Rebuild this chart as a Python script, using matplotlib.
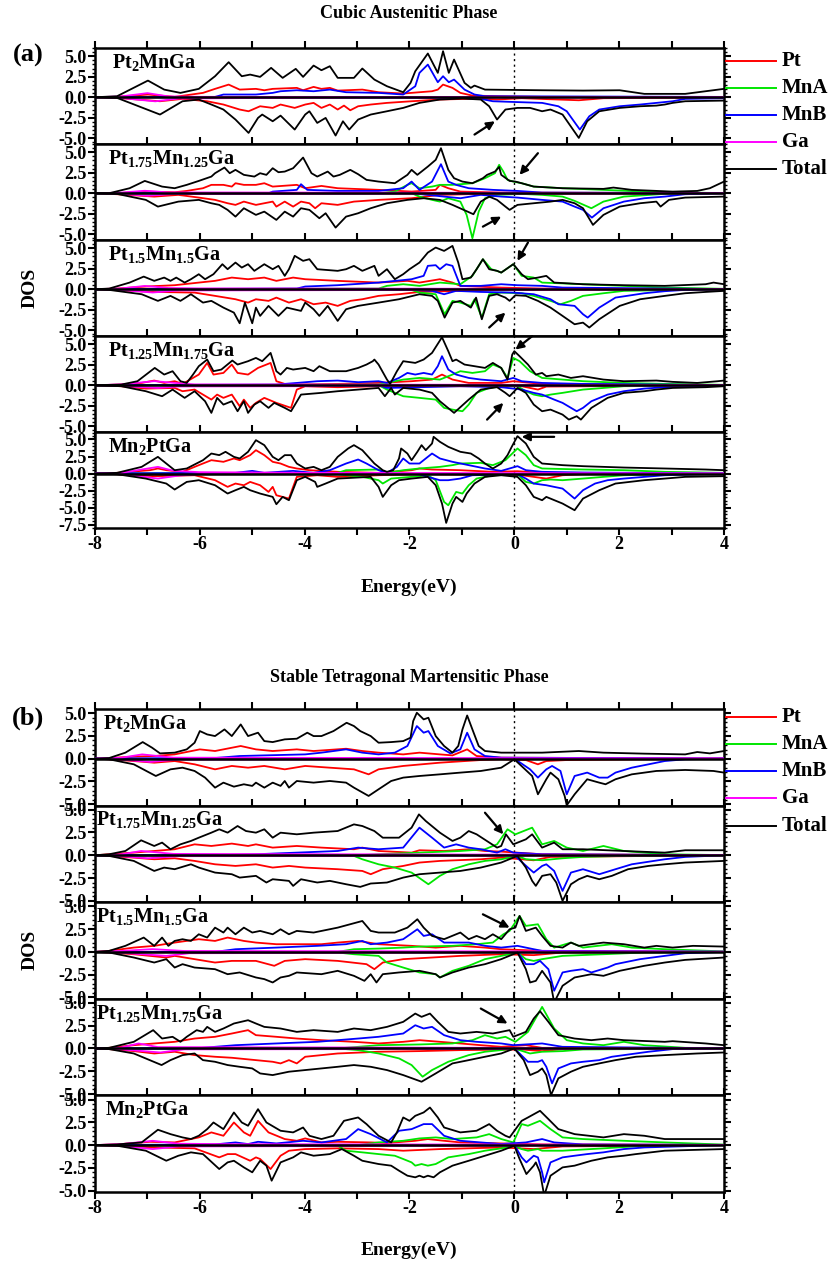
import matplotlib.pyplot as plt
from matplotlib.lines import Line2D
from matplotlib.ticker import MultipleLocator, FormatStrFormatter

plt.rcParams['font.family'] = 'Liberation Serif'
plt.rcParams['font.weight'] = 'bold'
plt.rcParams['mathtext.fontset'] = 'custom'
plt.rcParams['mathtext.rm'] = 'Liberation Serif:bold'
plt.rcParams['mathtext.it'] = 'Liberation Serif:bold'
plt.rcParams['mathtext.bf'] = 'Liberation Serif:bold'
plt.rcParams['axes.unicode_minus'] = False
plt.rcParams['axes.linewidth'] = 1.8

# ---------------- data: (energy eV, DOS) ----------------
# (a) cubic austenite, Pt2MnGa
a1_pt_up = [(-8, 0), (-7.58, 0.04), (-6.99, 0.33), (-6.48, 0.04), (-5.94, 0.53), (-5.71, 1.02), (-5.45, 1.54), (-5.24, 0.93), (-4.93, 1.02), (-4.77, 0.85), (-4.61, 1.02), (-4.15, 1.14), (-4.03, 0.85), (-3.83, 1.26), (-3.68, 1.02), (-3.52, 1.14), (-3.37, 0.81), (-2.9, 0.93), (-2.59, 0.61), (-2.12, 0.45), (-1.81, 0.61), (-1.57, 0.73), (-1.46, 0.93), (-1.36, 1.54), (-1.18, 1.14), (-1.03, 0.53), (-0.8, 0.2), (-0.25, 0.12), (0.53, 0.04), (4, 0.02)]
a1_pt_dn = [(-8, 0), (-7.58, -0.08), (-6.76, -0.49), (-6.33, -0.2), (-5.86, -0.49), (-5.55, -0.89), (-5.24, -1.5), (-5.07, -1.71), (-4.85, -1.1), (-4.61, -1.3), (-4.46, -0.89), (-4.19, -1.3), (-3.99, -0.89), (-3.83, -0.69), (-3.68, -1.3), (-3.52, -0.89), (-3.37, -1.5), (-3.25, -1.02), (-3.13, -1.59), (-2.98, -1.1), (-2.74, -0.89), (-2.43, -0.69), (-1.96, -0.49), (-1.42, -0.28), (-0.64, -0.16), (-0.33, -0.28), (0.14, -0.12), (1.23, -0.37), (1.7, -0.12), (4, -0.04)]
a1_mnb_up = [(-8, 0), (-5.71, 0.04), (-5.55, 0.33), (-4.93, 0.33), (-4.61, 0.53), (-4.46, 0.73), (-4.15, 0.85), (-3.83, 0.73), (-3.52, 0.93), (-3.21, 0.61), (-2.59, 0.53), (-2.12, 0.33), (-1.89, 1.34), (-1.81, 2.97), (-1.65, 3.98), (-1.46, 1.83), (-1.36, 2.56), (-1.25, 1.83), (-1.15, 2.15), (-0.95, 0.93), (-0.76, 0.33), (-0.56, 0.12), (4, 0.04)]
a1_mnb_dn = [(-8, 0), (-1.03, -0.08), (-0.64, -0.2), (-0.41, -0.49), (0.14, -0.61), (0.53, -0.69), (0.84, -1.1), (1.0, -1.71), (1.25, -3.94), (1.43, -2.32), (1.62, -1.5), (2.01, -1.1), (2.4, -0.89), (2.71, -0.69), (3.02, -0.49), (3.26, -0.2), (4, -0.12)]
a1_ga_up = [(-8, 0), (-7.5, 0.1), (-7.0, 0.5), (-6.6, 0.1), (-6.0, 0.05), (4, 0.02)]
a1_ga_dn = [(-8, 0), (-7.5, -0.1), (-6.85, -0.5), (-6.4, -0.15), (-5.0, -0.1), (-2.0, -0.05), (4, -0.02)]
a1_tot_up = [(-8, 0), (-7.58, 0.12), (-6.99, 2.03), (-6.68, 0.93), (-6.37, 0.53), (-6.02, 1.02), (-5.71, 2.56), (-5.45, 4.27), (-5.2, 2.56), (-5.04, 2.76), (-4.85, 2.48), (-4.64, 3.58), (-4.42, 2.36), (-4.17, 3.46), (-4.03, 2.48), (-3.83, 3.86), (-3.68, 3.29), (-3.52, 3.78), (-3.37, 2.36), (-3.06, 2.36), (-2.9, 3.5), (-2.67, 2.15), (-2.43, 1.34), (-2.12, 0.61), (-1.98, 1.75), (-1.89, 3.17), (-1.65, 5.33), (-1.46, 2.97), (-1.36, 5.61), (-1.25, 2.97), (-1.15, 4.59), (-0.95, 1.75), (-0.83, 1.14), (-0.76, 1.42), (-0.56, 0.93), (0.53, 0.85), (1.31, 0.81), (2.01, 0.85), (2.48, 0.41), (3.26, 0.41), (4.0, 1.02)]
a1_tot_dn = [(-8, 0), (-7.58, -0.08), (-6.76, -2.11), (-6.33, -0.49), (-6.02, -0.28), (-5.78, -0.89), (-5.55, -1.5), (-5.32, -2.72), (-5.07, -4.35), (-4.89, -2.52), (-4.81, -2.11), (-4.61, -2.93), (-4.46, -2.24), (-4.19, -3.94), (-3.99, -2.11), (-3.91, -1.71), (-3.76, -3.13), (-3.6, -2.52), (-3.41, -4.67), (-3.27, -2.93), (-3.15, -3.94), (-2.98, -2.72), (-2.74, -2.11), (-2.43, -1.71), (-2.12, -1.3), (-1.81, -0.69), (-1.42, -0.28), (-0.99, -0.16), (-0.64, -0.28), (-0.48, -1.1), (-0.33, -2.72), (-0.17, -1.5), (0.06, -1.3), (0.3, -1.3), (0.53, -1.71), (0.69, -1.5), (0.92, -2.11), (1.23, -4.96), (1.39, -2.93), (1.62, -1.71), (2.01, -1.3), (2.4, -1.1), (2.71, -1.02), (2.87, -0.89), (3.02, -0.69), (3.26, -0.49), (4.0, -0.41)]

# (a) Pt1.75Mn1.25Ga
a2_pt_up = [(-8, 0), (-7.58, 0), (-7.03, 0.2), (-6.48, 0.12), (-6.25, 0.28), (-5.94, 0.61), (-5.78, 1.02), (-5.55, 1.02), (-5.39, 0.81), (-5.32, 1.22), (-5.16, 1.02), (-4.93, 1.02), (-4.77, 1.22), (-4.61, 0.81), (-4.15, 1.02), (-3.99, 0.61), (-3.68, 0.89), (-3.37, 0.61), (-2.59, 0.41), (-1.96, 0.2), (-1.5, 0.41), (-1.42, 1.02), (-1.26, 0.61), (-1.03, 0.2), (-0.25, 0.08), (4, 0.02)]
a2_pt_dn = [(-8, 0), (-7.58, -0.12), (-6.87, -0.41), (-6.41, -0.2), (-6.02, -0.53), (-5.71, -0.81), (-5.47, -1.22), (-5.32, -1.42), (-5.16, -1.02), (-4.93, -1.42), (-4.61, -1.02), (-4.54, -1.63), (-4.38, -1.02), (-4.22, -1.63), (-4.07, -1.02), (-3.91, -1.22), (-3.8, -1.83), (-3.68, -1.22), (-3.37, -1.42), (-3.06, -1.02), (-2.59, -0.81), (-1.96, -0.61), (-1.42, -0.2), (-0.64, -0.08), (4, 0)]
a2_mna_up = [(-8, 0), (-2.59, 0), (-2.28, 0.2), (-2.04, 1.02), (-1.96, 1.22), (-1.81, 0.61), (-1.57, 0.81), (-1.42, 1.02), (-1.18, 1.02), (-0.8, 1.22), (-0.56, 1.83), (-0.37, 2.44), (-0.29, 3.46), (-0.21, 2.64), (-0.13, 1.63), (-0.02, 1.42), (0.14, 1.22), (0.37, 0.81), (0.92, 0.61), (1.7, 0.41), (2.48, 0.2), (3.26, 0.08), (4, 0.02)]
a2_mna_dn = [(-8, 0), (-1.96, 0), (-1.81, -0.41), (-1.57, -0.81), (-1.42, -1.02), (-1.26, -0.61), (-1.03, -1.02), (-0.91, -2.64), (-0.8, -5.49), (-0.68, -2.24), (-0.56, -0.61), (-0.33, -0.2), (0.14, -0.08), (0.53, -0.2), (0.92, -0.41), (1.15, -0.93), (1.47, -1.83), (1.7, -1.02), (2.09, -0.41), (2.87, -0.08), (4, 0)]
a2_mnb_up = [(-8, 0), (-4.69, 0), (-4.61, 0.2), (-4.15, 0.41), (-4.07, 1.1), (-3.95, 0.41), (-3.37, 0.28), (-2.59, 0.28), (-2.12, 0.61), (-1.96, 1.42), (-1.81, 0.41), (-1.57, 1.42), (-1.4, 3.54), (-1.26, 1.42), (-1.11, 1.02), (-0.87, 0.61), (-0.41, 0.41), (0.06, 0.28), (0.53, 0.08), (4, 0.02)]
a2_mnb_dn = [(-8, 0), (-1.96, 0), (-1.65, -0.2), (-1.34, -0.41), (-1.03, -0.61), (-0.64, -0.2), (-0.25, -0.41), (0.06, -0.53), (0.53, -0.81), (0.92, -1.02), (1.15, -1.63), (1.31, -2.03), (1.48, -2.97), (1.7, -1.83), (2.09, -1.02), (2.48, -0.61), (2.87, -0.41), (3.26, -0.12), (4, 0)]
a2_ga_up = [(-8, 0), (-7.5, 0.08), (-7.05, 0.3), (-6.6, 0.1), (4, 0.02)]
a2_ga_dn = [(-8, 0), (-7.5, -0.08), (-7.0, -0.3), (-6.5, -0.1), (4, -0.02)]
a2_tot_up = [(-8, 0), (-7.73, 0), (-7.34, 0.61), (-7.05, 1.5), (-6.72, 0.81), (-6.48, 0.61), (-6.25, 1.02), (-6.02, 1.5), (-5.78, 2.03), (-5.71, 2.44), (-5.53, 3.13), (-5.43, 2.44), (-5.32, 2.85), (-5.16, 2.24), (-4.96, 2.03), (-4.85, 2.44), (-4.73, 2.24), (-4.61, 3.05), (-4.5, 2.56), (-4.38, 2.64), (-4.22, 3.05), (-4.03, 4.35), (-3.87, 2.44), (-3.76, 2.03), (-3.56, 2.64), (-3.45, 2.03), (-3.33, 2.24), (-3.13, 2.85), (-2.98, 2.32), (-2.82, 1.63), (-2.59, 1.42), (-2.28, 1.22), (-2.04, 2.24), (-1.96, 2.85), (-1.85, 2.24), (-1.65, 3.25), (-1.5, 4.07), (-1.4, 5.49), (-1.26, 2.85), (-1.15, 1.83), (-0.99, 1.42), (-0.8, 1.22), (-0.6, 1.83), (-0.52, 2.24), (-0.37, 2.64), (-0.29, 3.2), (-0.25, 2.24), (-0.09, 1.5), (0.02, 1.42), (0.14, 1.22), (0.37, 0.81), (0.92, 0.61), (1.7, 0.53), (1.89, 0.69), (2.24, 0.41), (3.02, 0.2), (3.49, 0.28), (3.73, 0.61), (4.0, 1.42)]
a2_tot_dn = [(-8, 0), (-7.58, -0.08), (-7.03, -0.81), (-6.8, -1.63), (-6.41, -1.02), (-6.02, -0.81), (-5.78, -1.22), (-5.63, -1.42), (-5.47, -2.03), (-5.32, -2.85), (-5.16, -1.83), (-4.93, -2.64), (-4.77, -2.24), (-4.54, -3.25), (-4.38, -2.24), (-4.22, -2.85), (-4.07, -1.83), (-3.91, -2.03), (-3.72, -3.05), (-3.6, -2.44), (-3.41, -4.19), (-3.21, -2.85), (-2.98, -2.44), (-2.74, -1.83), (-2.43, -1.22), (-2.04, -0.81), (-1.73, -0.61), (-1.42, -0.81), (-1.18, -1.42), (-0.78, -2.56), (-0.64, -1.02), (-0.48, -0.41), (-0.33, -0.81), (-0.17, -1.63), (-0.09, -2.03), (0.06, -1.42), (0.37, -1.22), (0.69, -1.02), (0.92, -0.81), (1.15, -1.22), (1.31, -1.83), (1.5, -3.86), (1.7, -2.64), (2.01, -1.63), (2.4, -1.22), (2.71, -1.02), (2.79, -1.63), (2.95, -0.81), (3.26, -0.53), (4, -0.41)]

# (a) Pt1.5Mn1.5Ga
a3_pt_up = [(-8, 0), (-7.58, 0.08), (-7.03, 0.33), (-6.48, 0.49), (-6.02, 0.81), (-5.71, 1.02), (-5.39, 1.42), (-5.08, 1.22), (-4.77, 1.42), (-4.54, 1.02), (-4.22, 1.42), (-3.99, 1.22), (-3.37, 1.02), (-2.59, 0.81), (-2.04, 1.02), (-1.81, 0.81), (-1.42, 1.22), (-1.18, 0.81), (-1.03, 0.41), (-0.25, 0.2), (0.53, 0.08), (4, 0.02)]
a3_pt_dn = [(-8, 0), (-7.73, -0.08), (-6.87, -0.33), (-6.1, -0.41), (-5.71, -0.81), (-5.32, -1.22), (-5.08, -1.63), (-4.93, -1.22), (-4.69, -1.42), (-4.54, -1.02), (-4.3, -1.63), (-4.07, -1.22), (-3.83, -1.83), (-3.6, -1.63), (-3.37, -2.03), (-3.13, -1.42), (-2.9, -1.22), (-2.59, -0.81), (-2.2, -0.61), (-1.81, -0.33), (-1.03, -0.2), (-0.25, -0.08), (4, 0)]
a3_mna_up = [(-8, 0), (-2.59, 0.08), (-2.43, 0.41), (-2.12, 0.61), (-1.81, 0.41), (-1.42, 0.81), (-1.03, 0.61), (-0.8, 1.63), (-0.68, 2.85), (-0.6, 3.66), (-0.44, 2.44), (-0.33, 2.24), (-0.25, 2.03), (-0.02, 3.05), (0.14, 1.63), (0.37, 1.42), (0.53, 0.81), (1.31, 0.61), (2.09, 0.41), (2.87, 0.2), (4, 0.05)]
a3_mna_dn = [(-8, 0), (-1.96, -0.08), (-1.81, -0.41), (-1.5, -0.61), (-1.33, -3.05), (-1.18, -1.42), (-1.03, -1.63), (-0.83, -2.03), (-0.76, -1.22), (-0.62, -3.46), (-0.48, -0.61), (-0.25, -0.41), (0.14, -0.49), (0.37, -0.81), (0.69, -1.42), (0.88, -1.83), (1.08, -1.42), (1.31, -0.81), (1.7, -0.49), (2.09, -0.2), (4, 0)]
a3_mnb_up = [(-8, 0), (-4.15, 0.08), (-3.99, 0.33), (-3.37, 0.49), (-2.59, 0.81), (-1.96, 1.22), (-1.73, 1.63), (-1.65, 2.85), (-1.5, 2.93), (-1.42, 2.44), (-1.3, 3.05), (-1.18, 2.85), (-1.03, 0.41), (-0.64, 0.41), (-0.25, 0.61), (0.06, 0.49), (0.53, 0.41), (0.92, 0.2), (4, 0.02)]
a3_mnb_dn = [(-8, 0), (-1.96, -0.08), (-1.57, -0.2), (-1.34, -0.61), (-1.11, -0.2), (-0.64, -0.33), (-0.02, -0.41), (0.37, -0.61), (0.69, -1.22), (0.84, -1.83), (1.15, -2.03), (1.31, -3.05), (1.4, -3.46), (1.62, -2.24), (1.93, -1.02), (2.48, -0.49), (2.87, -0.24), (3.26, -0.08), (4, 0)]
a3_ga_up = [(-8, 0), (-7.5, 0.1), (-7.05, 0.4), (-6.6, 0.15), (-6.0, 0.1), (4, 0.02)]
a3_ga_dn = [(-8, 0), (-7.5, -0.1), (-6.9, -0.4), (-6.4, -0.15), (4, -0.02)]
a3_tot_up = [(-8, 0), (-7.73, 0.08), (-7.34, 0.81), (-7.07, 1.54), (-6.87, 1.02), (-6.68, 1.42), (-6.56, 1.02), (-6.45, 1.42), (-6.29, 0.81), (-6.17, 1.22), (-6.02, 1.83), (-5.9, 1.22), (-5.74, 1.83), (-5.57, 3.05), (-5.47, 2.44), (-5.32, 3.25), (-5.2, 2.64), (-5.08, 3.05), (-4.96, 2.24), (-4.77, 3.05), (-4.61, 2.44), (-4.5, 2.85), (-4.38, 1.63), (-4.3, 2.44), (-4.19, 4.07), (-4.03, 3.46), (-3.91, 3.66), (-3.76, 2.44), (-3.37, 2.24), (-3.21, 2.44), (-3.06, 2.85), (-2.9, 2.24), (-2.67, 2.85), (-2.59, 1.63), (-2.43, 2.44), (-2.28, 1.22), (-2.12, 1.83), (-2.0, 2.44), (-1.81, 3.25), (-1.65, 4.47), (-1.5, 5.08), (-1.34, 4.67), (-1.18, 5.28), (-1.07, 3.25), (-0.99, 1.22), (-0.83, 1.42), (-0.72, 2.44), (-0.6, 3.66), (-0.48, 2.44), (-0.33, 2.24), (-0.25, 2.03), (-0.02, 3.05), (0.14, 1.83), (0.26, 1.22), (0.45, 1.42), (0.61, 1.63), (0.76, 0.81), (1.31, 0.61), (2.09, 0.49), (2.87, 0.41), (3.65, 0.61), (3.8, 0.81), (4, 0.61)]
a3_tot_dn = [(-8, 0), (-7.73, -0.08), (-7.11, -0.61), (-6.8, -1.42), (-6.56, -0.81), (-6.37, -1.42), (-6.17, -0.61), (-5.94, -1.63), (-5.78, -1.42), (-5.55, -2.24), (-5.35, -2.85), (-5.24, -4.15), (-5.14, -1.63), (-5.0, -4.15), (-4.93, -2.24), (-4.85, -3.25), (-4.69, -2.03), (-4.5, -3.25), (-4.34, -2.24), (-4.07, -2.64), (-3.99, -1.63), (-3.83, -2.44), (-3.72, -3.25), (-3.56, -2.03), (-3.37, -3.86), (-3.21, -2.44), (-2.98, -2.03), (-2.59, -1.63), (-2.2, -1.22), (-1.81, -0.61), (-1.57, -0.81), (-1.46, -1.42), (-1.33, -3.46), (-1.18, -1.63), (-1.03, -1.42), (-0.83, -2.24), (-0.73, -1.02), (-0.62, -3.66), (-0.48, -0.81), (-0.33, -0.61), (-0.17, -1.02), (-0.09, -1.42), (0.02, -0.73), (0.22, -0.81), (0.45, -1.42), (0.69, -2.24), (0.92, -3.25), (1.15, -4.27), (1.31, -4.07), (1.43, -4.67), (1.62, -3.66), (2.01, -2.03), (2.4, -1.22), (2.87, -0.81), (3.26, -0.49), (3.65, -0.33), (4, -0.2)]

# (a) Pt1.25Mn1.75Ga
a4_pt_up = [(-8, 0), (-7.5, 0.08), (-7.11, 0.28), (-6.87, 0.57), (-6.68, 0.28), (-6.48, 0.49), (-6.33, 0.16), (-6.02, 1.3), (-5.86, 2.72), (-5.74, 1.3), (-5.55, 1.5), (-5.39, 2.52), (-5.28, 1.5), (-5.08, 1.3), (-4.89, 2.11), (-4.65, 2.72), (-4.54, 0.49), (-4.38, 0.16), (-4.15, 0.08), (-3.37, 0.16), (-2.59, 0.28), (-1.96, 0.49), (-1.57, 0.69), (-1.38, 1.3), (-1.18, 0.69), (-0.87, 0.28), (-0.25, 0.28), (-0.02, 0.49), (0.53, 0.16), (4, 0.02)]
a4_pt_dn = [(-8, 0), (-7.5, -0.12), (-7.03, -0.41), (-6.48, -0.33), (-6.33, -0.73), (-6.1, -0.53), (-5.78, -1.75), (-5.67, -1.14), (-5.55, -1.54), (-5.39, -1.14), (-5.24, -2.56), (-5.16, -1.75), (-5.04, -2.76), (-4.93, -2.15), (-4.77, -1.54), (-4.54, -2.15), (-4.26, -2.76), (-4.15, -0.53), (-3.99, -0.12), (-3.37, -0.24), (-2.59, -0.12), (0.14, -0.12), (0.45, -0.53), (0.61, -0.16), (4, 0)]
a4_mna_up = [(-8, 0), (-2.59, 0.08), (-2.43, 0.28), (-2.12, 0.69), (-1.81, 0.89), (-1.42, 0.69), (-1.18, 1.3), (-1.03, 1.71), (-0.8, 1.5), (-0.56, 1.71), (-0.41, 2.52), (-0.25, 2.11), (-0.13, 0.89), (-0.02, 3.33), (0.1, 2.93), (0.3, 1.71), (0.53, 0.89), (0.92, 0.69), (1.31, 0.49), (2.09, 0.28), (2.87, 0.16), (4, 0.05)]
a4_mna_dn = [(-8, 0), (-2.59, 0), (-2.43, -0.53), (-2.12, -1.34), (-1.81, -1.54), (-1.5, -1.75), (-1.34, -2.76), (-1.18, -2.97), (-0.99, -3.17), (-0.87, -2.36), (-0.72, -0.93), (-0.48, -0.33), (-0.25, -0.12), (0.06, -0.12), (0.22, -0.73), (0.37, -1.14), (0.53, -1.34), (0.69, -1.14), (0.92, -0.93), (1.31, -0.53), (1.7, -0.33), (2.09, -0.12), (4, 0)]
a4_mnb_up = [(-8, 0), (-4.54, 0.08), (-4.15, 0.28), (-3.76, 0.49), (-3.37, 0.57), (-2.98, 0.37), (-2.59, 0.49), (-2.43, 0.28), (-2.2, 0.89), (-2.04, 1.5), (-1.89, 1.3), (-1.73, 1.5), (-1.57, 1.3), (-1.46, 2.32), (-1.38, 3.54), (-1.26, 1.91), (-1.11, 1.3), (-0.87, 0.89), (-0.64, 0.69), (-0.25, 0.49), (-0.02, 0.89), (0.14, 0.49), (0.53, 0.28), (1.31, 0.16), (4, 0.02)]
a4_mnb_dn = [(-8, 0), (-2.59, 0), (-2.43, -0.33), (-1.81, -0.24), (-1.03, -0.12), (-0.25, -0.24), (0.14, -0.53), (0.37, -0.93), (0.53, -1.14), (0.76, -1.75), (0.92, -2.15), (1.19, -3.17), (1.31, -2.76), (1.47, -1.95), (1.78, -1.14), (2.09, -0.73), (2.48, -0.41), (2.87, -0.24), (4, 0)]
a4_ga_up = [(-8, 0), (-7.5, 0.1), (-6.87, 0.5), (-6.48, 0.28), (-6.1, 0.1), (4, 0.02)]
a4_ga_dn = [(-8, 0), (-7.5, -0.1), (-6.8, -0.33), (-6.4, -0.15), (4, -0.02)]
a4_tot_up = [(-8, 0), (-7.5, 0.08), (-7.19, 0.49), (-6.86, 2.11), (-6.68, 1.3), (-6.52, 1.71), (-6.37, 0.49), (-6.25, 0.28), (-6.13, 1.3), (-6.02, 2.32), (-5.86, 3.13), (-5.74, 1.71), (-5.59, 1.91), (-5.38, 3.01), (-5.28, 2.52), (-5.08, 2.93), (-4.93, 3.33), (-4.81, 2.93), (-4.65, 3.94), (-4.54, 1.71), (-4.46, 1.3), (-4.34, 2.11), (-4.22, 1.91), (-3.99, 2.11), (-3.83, 1.71), (-3.72, 2.32), (-3.52, 1.71), (-3.21, 1.71), (-2.98, 2.11), (-2.82, 2.52), (-2.7, 2.93), (-2.67, 3.13), (-2.59, 2.52), (-2.43, 0.69), (-2.37, 0.16), (-2.24, 1.71), (-2.12, 2.93), (-1.89, 2.72), (-1.73, 3.13), (-1.57, 3.94), (-1.38, 5.85), (-1.26, 4.15), (-1.18, 2.93), (-1.11, 3.13), (-0.95, 2.52), (-0.76, 2.32), (-0.56, 2.11), (-0.41, 2.72), (-0.25, 2.11), (-0.13, 0.69), (-0.04, 3.74), (0, 4.15), (0.1, 3.54), (0.26, 2.52), (0.41, 1.3), (0.53, 1.5), (0.61, 1.1), (0.84, 1.3), (1.08, 0.89), (1.31, 1.1), (1.7, 0.69), (2.09, 0.49), (2.71, 0.57), (3.02, 0.41), (3.49, 0.28), (3.88, 0.49), (4, 0.57)]
a4_tot_dn = [(-8, 0), (-7.5, -0.12), (-7.03, -0.73), (-6.72, -1.34), (-6.52, -0.53), (-6.29, -1.54), (-6.1, -0.73), (-5.9, -1.95), (-5.78, -3.37), (-5.67, -1.54), (-5.55, -2.36), (-5.39, -1.95), (-5.28, -3.17), (-5.16, -1.95), (-5.08, -3.37), (-4.96, -2.36), (-4.85, -1.95), (-4.69, -2.76), (-4.58, -2.15), (-4.38, -2.76), (-4.26, -3.17), (-4.07, -1.14), (-3.68, -0.93), (-3.37, -0.73), (-2.98, -0.53), (-2.59, -0.33), (-2.47, -1.34), (-2.35, -0.33), (-2.28, -1.14), (-2.12, -0.33), (-1.81, -0.53), (-1.57, -0.93), (-1.42, -1.95), (-1.15, -3.37), (-0.87, -1.75), (-0.64, -0.53), (-0.33, -0.24), (-0.17, -0.93), (-0.09, -1.34), (0.06, -0.33), (0.22, -0.93), (0.37, -2.36), (0.53, -3.17), (0.69, -2.97), (0.92, -3.58), (1.04, -4.19), (1.19, -3.78), (1.27, -4.19), (1.47, -2.76), (1.78, -1.54), (2.09, -0.93), (2.48, -0.73), (2.71, -0.53), (3.02, -0.33), (3.65, -0.24), (4, -0.12)]

# (a) Mn2PtGa
a5_pt_up = [(-8, 0), (-7.58, 0.1), (-6.95, 0.49), (-6.8, 0.74), (-6.64, 0.49), (-6.33, 0.25), (-6.02, 1.23), (-5.78, 1.96), (-5.55, 1.72), (-5.35, 2.21), (-5.24, 1.96), (-5.04, 2.7), (-4.93, 3.43), (-4.77, 2.7), (-4.61, 1.72), (-4.46, 1.47), (-4.3, 0.98), (-4.15, 0.74), (-3.91, 0.49), (-3.37, 0.25), (-2.59, 0.1), (-1.96, 0.49), (-1.81, 0.74), (-1.57, 0.59), (-1.03, 0.49), (-0.41, 0.25), (0.06, 0.34), (0.53, 0.1), (4, 0.02)]
a5_pt_dn = [(-8, 0), (-7.58, -0.1), (-6.87, -0.39), (-6.1, -0.25), (-5.71, -0.98), (-5.47, -1.96), (-5.32, -1.47), (-5.16, -1.72), (-5.04, -1.23), (-4.85, -1.72), (-4.69, -2.7), (-4.61, -1.96), (-4.54, -3.19), (-4.3, -3.68), (-4.22, -1.96), (-4.15, -0.49), (-3.76, -0.25), (-3.37, -0.49), (-2.59, -0.25), (-1.81, -0.1), (0.14, -0.25), (0.37, -0.49), (0.61, -0.74), (0.92, -0.25), (1.31, -0.1), (4, 0)]
a5_mna_up = [(-8, 0), (-3.37, 0.1), (-3.21, 0.49), (-2.59, 0.59), (-2.43, 0.1), (-2.12, 0.49), (-1.81, 0.74), (-1.42, 0.98), (-1.18, 1.23), (-1.03, 1.47), (-0.64, 1.57), (-0.41, 1.23), (-0.17, 1.96), (0.06, 3.68), (0.22, 2.7), (0.37, 1.23), (0.53, 0.74), (1.31, 0.59), (2.09, 0.49), (2.87, 0.25), (4, 0.1)]
a5_mna_dn = [(-8, 0), (-3.37, -0.1), (-2.9, -0.49), (-2.59, -0.98), (-2.51, -1.47), (-2.35, -0.74), (-1.81, -0.39), (-1.65, -0.25), (-1.5, -0.98), (-1.34, -4.17), (-1.26, -4.66), (-1.11, -2.7), (-0.99, -2.94), (-0.87, -1.72), (-0.72, -0.74), (-0.41, -0.25), (0.06, -0.1), (0.22, -1.23), (0.37, -1.47), (0.53, -0.98), (0.69, -0.88), (0.92, -0.98), (1.31, -0.74), (1.7, -0.49), (2.09, -0.25), (2.87, -0.1), (4, 0)]
a5_mnb_up = [(-8, 0), (-5.32, 0.1), (-5.0, 0.39), (-4.77, 0.1), (-4.22, 0.39), (-3.83, 0.1), (-3.52, 0.49), (-3.21, 1.47), (-2.98, 2.06), (-2.82, 1.47), (-2.59, 0.49), (-2.43, 0.1), (-2.24, 0.98), (-2.12, 2.21), (-2.0, 1.47), (-1.81, 1.47), (-1.69, 2.21), (-1.57, 2.94), (-1.42, 2.21), (-1.18, 1.72), (-0.87, 1.23), (-0.56, 0.74), (-0.25, 0.39), (0.06, 1.08), (0.22, 0.49), (0.53, 0.25), (1.31, 0.15), (4, 0.02)]
a5_mnb_dn = [(-8, 0), (-1.81, -0.1), (-1.65, -0.49), (-1.42, -0.98), (-1.26, -0.98), (-1.03, -0.74), (-0.8, -0.25), (0.06, -0.1), (0.22, -0.74), (0.37, -1.47), (0.61, -1.72), (0.76, -1.96), (0.92, -2.21), (1.15, -3.68), (1.31, -2.45), (1.54, -1.47), (1.78, -0.98), (2.09, -0.74), (2.48, -0.49), (2.87, -0.25), (4, 0)]
a5_ga_up = [(-8, 0), (-7.5, 0.1), (-6.8, 0.98), (-6.5, 0.4), (-6.0, 0.2), (-4.0, 0.1), (4, 0.02)]
a5_ga_dn = [(-8, 0), (-7.5, -0.1), (-6.8, -0.74), (-6.4, -0.3), (-6.0, -0.1), (4, -0.02)]
a5_tot_up = [(-8, 0), (-7.58, 0.1), (-7.11, 0.98), (-6.8, 2.45), (-6.64, 1.47), (-6.48, 0.49), (-6.25, 0.74), (-5.94, 1.96), (-5.78, 2.94), (-5.63, 2.7), (-5.51, 3.19), (-5.35, 2.45), (-5.24, 2.21), (-5.08, 3.19), (-4.93, 4.9), (-4.77, 4.17), (-4.61, 2.45), (-4.5, 1.96), (-4.38, 2.7), (-4.26, 2.7), (-4.15, 1.47), (-3.99, 0.74), (-3.83, 0.98), (-3.68, 0.49), (-3.52, 0.98), (-3.37, 2.45), (-3.17, 3.68), (-3.06, 4.17), (-2.9, 3.43), (-2.67, 1.47), (-2.51, 0.49), (-2.43, 0.25), (-2.31, 0.49), (-2.2, 2.21), (-2.16, 3.68), (-2.04, 2.94), (-1.96, 1.96), (-1.85, 3.19), (-1.77, 4.17), (-1.69, 3.43), (-1.57, 4.41), (-1.54, 5.39), (-1.42, 4.66), (-1.26, 3.92), (-1.03, 3.19), (-0.83, 2.94), (-0.68, 2.21), (-0.56, 1.47), (-0.41, 0.74), (-0.25, 1.47), (-0.13, 2.7), (-0.05, 3.92), (0.06, 5.49), (0.22, 4.41), (0.37, 2.45), (0.53, 1.47), (0.92, 1.23), (1.31, 1.08), (2.09, 0.88), (2.87, 0.74), (3.65, 0.59), (4, 0.49)]
a5_tot_dn = [(-8, 0), (-7.58, -0.1), (-7.03, -0.74), (-6.64, -1.47), (-6.48, -2.35), (-6.25, -1.23), (-6.02, -0.98), (-5.71, -1.72), (-5.47, -2.94), (-5.32, -2.45), (-5.16, -1.96), (-5.04, -2.45), (-4.85, -2.94), (-4.61, -3.43), (-4.54, -4.51), (-4.42, -3.43), (-4.3, -3.92), (-4.15, -0.98), (-3.99, -0.49), (-3.8, -1.23), (-3.76, -1.96), (-3.6, -1.47), (-3.37, -0.74), (-2.74, -0.49), (-2.59, -1.96), (-2.51, -3.43), (-2.35, -1.72), (-2.2, -0.98), (-1.96, -0.74), (-1.65, -0.49), (-1.5, -1.72), (-1.38, -4.41), (-1.3, -7.25), (-1.18, -4.41), (-1.11, -3.43), (-0.99, -4.17), (-0.91, -2.94), (-0.76, -1.47), (-0.56, -0.49), (-0.25, -0.25), (0.06, -0.49), (0.22, -1.72), (0.37, -3.43), (0.53, -3.92), (0.61, -3.43), (0.92, -4.41), (1.15, -5.39), (1.31, -3.68), (1.62, -2.45), (1.93, -1.47), (2.48, -0.98), (2.87, -0.74), (3.26, -0.49), (4, -0.39)]

# (b) stable tetragonal martensite, Pt2MnGa
b1_pt_up = [(-8, 0), (-7.73, 0.07), (-7.26, 0.22), (-6.87, 0.29), (-6.48, 0.47), (-6.0, 1.02), (-5.71, 0.84), (-5.22, 1.39), (-4.93, 1.02), (-4.61, 0.84), (-4.15, 1.02), (-3.83, 0.84), (-3.21, 1.09), (-2.9, 0.84), (-2.59, 0.66), (-2.12, 0.47), (-1.81, 0.66), (-1.42, 0.47), (-1.18, 0.36), (-0.9, 1.02), (-0.72, 0.29), (-0.25, 0.11), (4, 0.02)]
b1_pt_dn = [(-8, 0), (-7.73, -0.07), (-7.26, -0.26), (-6.87, -0.44), (-6.48, -0.26), (-6.1, -0.62), (-5.71, -1.17), (-5.39, -0.8), (-5.08, -0.99), (-4.77, -0.8), (-4.38, -1.17), (-3.99, -0.8), (-3.52, -0.99), (-3.06, -1.17), (-2.78, -1.72), (-2.59, -1.17), (-2.12, -0.8), (-1.42, -0.44), (-0.64, -0.15), (-0.25, -0.07), (0.22, -0.15), (0.45, -0.62), (0.61, -0.26), (1.0, -0.15), (4, 0)]
b1_mnb_up = [(-8, 0), (-5.71, 0.07), (-5.24, 0.29), (-4.77, 0.36), (-3.99, 0.47), (-3.68, 0.66), (-3.21, 1.02), (-2.9, 0.66), (-2.59, 0.47), (-2.28, 0.66), (-2.04, 1.39), (-1.86, 3.58), (-1.73, 2.85), (-1.64, 3.03), (-1.46, 1.39), (-1.22, 0.58), (-1.03, 1.02), (-0.9, 2.85), (-0.76, 1.02), (-0.56, 0.29), (-0.25, 0.11), (4, 0.02)]
b1_mnb_dn = [(-8, 0), (0, 0), (0.3, -1.17), (0.45, -2.08), (0.61, -1.17), (0.72, -0.8), (0.88, -1.35), (1.0, -3.91), (1.15, -1.9), (1.39, -1.53), (1.62, -2.08), (1.78, -2.08), (1.93, -1.53), (2.24, -0.99), (2.56, -0.62), (2.87, -0.26), (3.26, -0.07), (4, 0)]
b1_ga_up = [(-8, 0), (-7.5, 0.1), (-7.1, 0.47), (-6.5, 0.11), (4, 0.02)]
b1_ga_dn = [(-8, 0), (-7.5, -0.1), (-6.95, -0.36), (-6.4, -0.1), (4, -0.02)]
b1_tot_up = [(-8, 0), (-7.73, 0.07), (-7.42, 0.66), (-7.09, 1.82), (-6.91, 1.2), (-6.76, 0.58), (-6.48, 0.66), (-6.25, 1.02), (-6.1, 1.75), (-6.0, 3.03), (-5.86, 2.66), (-5.71, 2.48), (-5.53, 3.21), (-5.39, 2.48), (-5.22, 3.76), (-5.08, 2.48), (-4.89, 2.85), (-4.77, 1.93), (-4.61, 1.82), (-4.38, 2.12), (-4.15, 2.19), (-3.95, 2.85), (-3.83, 2.48), (-3.68, 2.48), (-3.45, 3.03), (-3.2, 3.94), (-3.06, 3.58), (-2.94, 3.03), (-2.74, 2.48), (-2.59, 1.75), (-2.35, 1.82), (-2.12, 1.93), (-1.98, 2.3), (-1.93, 4.12), (-1.86, 5.04), (-1.73, 4.31), (-1.64, 4.49), (-1.5, 2.48), (-1.34, 1.39), (-1.18, 0.66), (-1.07, 1.39), (-0.99, 3.21), (-0.9, 4.74), (-0.8, 3.21), (-0.68, 1.39), (-0.56, 0.84), (-0.25, 0.66), (0.53, 0.66), (1.23, 0.84), (1.7, 0.66), (2.48, 0.55), (3.26, 0.47), (3.49, 0.73), (3.73, 0.58), (4, 0.84)]
b1_tot_dn = [(-8, 0), (-7.73, -0.07), (-7.26, -0.62), (-6.84, -1.9), (-6.56, -1.17), (-6.33, -0.99), (-6.1, -1.35), (-5.9, -2.08), (-5.71, -3.18), (-5.55, -2.63), (-5.35, -3.07), (-5.16, -2.81), (-5.0, -2.99), (-4.93, -2.63), (-4.77, -3.18), (-4.61, -2.63), (-4.46, -2.99), (-4.38, -2.45), (-4.3, -3.18), (-4.15, -2.45), (-3.83, -2.63), (-3.52, -2.45), (-3.21, -2.63), (-3.06, -3.18), (-2.78, -4.09), (-2.59, -3.36), (-2.35, -2.45), (-2.12, -2.08), (-1.81, -1.9), (-1.42, -1.72), (-1.03, -1.53), (-0.64, -1.35), (-0.25, -0.99), (0, -0.07), (0.34, -1.9), (0.45, -3.91), (0.61, -2.26), (0.69, -1.53), (0.84, -2.26), (0.96, -4.09), (1.0, -5.11), (1.15, -3.91), (1.39, -2.26), (1.62, -2.63), (1.74, -2.81), (1.93, -2.26), (2.24, -1.72), (2.71, -1.35), (3.26, -1.24), (3.8, -1.35), (4, -1.53)]

# (b) Pt1.75Mn1.25Ga
b2_pt_up = [(-8, 0), (-7.73, 0.11), (-7.26, 0.29), (-6.87, 0.47), (-6.48, 0.66), (-6.1, 1.2), (-5.78, 1.02), (-5.39, 1.28), (-5.08, 1.02), (-4.93, 1.2), (-4.61, 0.84), (-4.15, 1.02), (-3.68, 0.84), (-3.06, 0.66), (-2.9, 0.84), (-2.59, 0.47), (-1.96, 0.29), (-1.81, 0.55), (-1.34, 0.47), (-0.87, 0.66), (-0.56, 0.47), (-0.25, 0.4), (0.53, 0.11), (4, 0.02)]
b2_pt_dn = [(-8, 0), (-7.73, -0.07), (-7.26, -0.26), (-6.87, -0.44), (-6.48, -0.33), (-6.1, -0.62), (-5.71, -0.99), (-5.32, -1.17), (-4.93, -0.99), (-4.61, -1.35), (-4.3, -1.17), (-3.99, -1.35), (-3.37, -1.53), (-2.9, -1.72), (-2.74, -2.08), (-2.51, -1.53), (-2.12, -1.17), (-1.81, -0.8), (-1.42, -0.62), (-0.64, -0.44), (-0.25, -0.26), (0.37, -0.55), (0.69, -0.18), (4, 0)]
b2_mna_up = [(-8, 0), (-2.98, 0), (-2.59, 0.11), (-1.81, 0.29), (-1.03, 0.47), (-0.56, 0.66), (-0.33, 1.2), (-0.13, 2.85), (0.02, 2.3), (0.34, 3.03), (0.53, 1.2), (0.76, 1.57), (1.0, 0.84), (1.31, 0.47), (1.7, 1.02), (2.09, 0.47), (2.87, 0.11), (4, 0.02)]
b2_mna_dn = [(-8, 0), (-3.06, -0.07), (-2.9, -0.44), (-2.59, -0.99), (-2.28, -1.35), (-1.96, -1.9), (-1.64, -3.18), (-1.42, -2.26), (-1.18, -1.53), (-0.87, -0.99), (-0.56, -0.62), (-0.25, -0.44), (0.06, -0.07), (0.22, -0.44), (0.53, -0.55), (0.92, -0.33), (1.31, -0.18), (2.09, -0.07), (4, 0)]
b2_mnb_up = [(-8, 0), (-5.71, 0), (-4.93, 0.11), (-4.15, 0.29), (-3.37, 0.47), (-2.98, 0.84), (-2.59, 0.66), (-2.12, 0.84), (-1.81, 3.03), (-1.57, 1.93), (-1.34, 0.84), (-1.11, 1.2), (-0.87, 0.84), (-0.64, 0.66), (-0.33, 0.29), (-0.17, 0.66), (-0.02, 0.29), (0.53, 0.11), (4, 0.02)]
b2_mnb_dn = [(-8, 0), (0, 0), (0.26, -1.35), (0.37, -1.9), (0.53, -1.17), (0.61, -0.99), (0.76, -1.72), (0.92, -3.91), (1.08, -1.9), (1.31, -1.53), (1.62, -2.08), (1.93, -1.53), (2.24, -0.99), (2.87, -0.44), (3.26, -0.18), (4, 0)]
b2_ga_up = [(-8, 0), (-7.5, 0.1), (-7.12, 0.47), (-6.5, 0.15), (4, 0.02)]
b2_ga_dn = [(-8, 0), (-7.5, -0.1), (-7.0, -0.33), (-6.4, -0.1), (4, -0.02)]
b2_tot_up = [(-8, 0), (-7.73, 0.11), (-7.42, 0.47), (-7.12, 1.64), (-6.87, 1.02), (-6.72, 1.39), (-6.56, 0.66), (-6.37, 1.2), (-6.17, 1.57), (-6.02, 1.93), (-5.78, 2.48), (-5.63, 2.85), (-5.47, 2.48), (-5.28, 3.21), (-5.12, 2.66), (-4.93, 2.48), (-4.77, 2.85), (-4.61, 1.93), (-4.46, 2.48), (-4.15, 2.3), (-3.83, 2.48), (-3.37, 2.66), (-3.06, 3.39), (-2.9, 3.21), (-2.67, 2.66), (-2.51, 1.93), (-2.2, 1.93), (-1.96, 3.03), (-1.82, 4.49), (-1.69, 3.76), (-1.42, 2.48), (-1.18, 1.57), (-1.03, 1.93), (-0.87, 2.66), (-0.72, 2.3), (-0.33, 0.84), (-0.25, 1.02), (-0.16, 2.3), (-0.02, 1.2), (0.22, 1.75), (0.34, 2.3), (0.53, 0.84), (0.76, 1.39), (0.92, 0.66), (1.31, 0.66), (2.09, 0.47), (2.87, 0.29), (3.26, 0.55), (4, 0.55)]
b2_tot_dn = [(-8, 0), (-7.73, -0.07), (-7.26, -0.62), (-6.87, -1.72), (-6.68, -1.35), (-6.48, -1.53), (-6.17, -0.99), (-6.02, -1.35), (-5.71, -1.9), (-5.39, -2.08), (-5.24, -2.45), (-4.93, -2.26), (-4.73, -2.99), (-4.61, -2.63), (-4.3, -2.81), (-4.22, -3.36), (-4.07, -2.63), (-3.76, -2.99), (-3.52, -2.81), (-3.21, -3.18), (-2.94, -3.47), (-2.74, -3.1), (-2.43, -2.99), (-2.12, -2.45), (-1.81, -2.08), (-1.42, -1.9), (-1.03, -1.72), (-0.64, -1.35), (-0.25, -0.8), (0.06, -0.07), (0.22, -1.35), (0.34, -2.81), (0.41, -3.36), (0.53, -2.26), (0.69, -2.08), (0.8, -2.99), (0.92, -5.0), (1.08, -3.18), (1.23, -2.63), (1.39, -2.26), (1.62, -2.63), (1.86, -2.26), (2.17, -1.53), (2.56, -1.17), (2.87, -0.99), (3.26, -0.8), (4, -0.62)]

# (b) Pt1.5Mn1.5Ga
b3_pt_up = [(-8, 0), (-7.73, 0.11), (-7.26, 0.47), (-6.87, 0.66), (-6.48, 1.02), (-6.02, 1.39), (-5.71, 1.2), (-5.47, 1.57), (-5.16, 1.2), (-4.93, 1.02), (-4.54, 0.84), (-3.68, 0.84), (-3.37, 1.02), (-2.98, 1.2), (-2.59, 0.84), (-1.96, 0.66), (-1.5, 0.47), (-1.03, 0.66), (-0.56, 0.47), (-0.25, 0.29), (0.53, 0.11), (4, 0.02)]
b3_pt_dn = [(-8, 0), (-7.73, -0.07), (-7.26, -0.26), (-6.64, -0.62), (-6.48, -0.44), (-6.1, -0.8), (-5.71, -1.17), (-5.39, -0.99), (-4.93, -0.99), (-4.58, -1.53), (-4.38, -0.99), (-3.99, -0.8), (-3.37, -0.99), (-2.82, -1.35), (-2.67, -1.9), (-2.51, -1.17), (-2.12, -0.8), (-1.57, -0.62), (-1.03, -0.44), (-0.25, -0.26), (0.37, -0.36), (0.92, -0.07), (4, 0)]
b3_mna_up = [(-8, 0), (-3.37, 0), (-3.06, 0.29), (-2.59, 0.36), (-2.12, 0.47), (-1.81, 0.58), (-1.18, 0.66), (-0.72, 0.84), (-0.41, 1.02), (-0.21, 1.93), (-0.09, 2.3), (0.1, 3.94), (0.22, 2.85), (0.45, 3.03), (0.61, 1.39), (0.76, 0.47), (1.08, 1.02), (1.31, 0.47), (1.86, 0.84), (2.24, 0.47), (2.87, 0.29), (4, 0.05)]
b3_mna_dn = [(-8, 0), (-3.37, -0.07), (-3.06, -0.26), (-2.59, -0.44), (-2.43, -1.17), (-2.12, -1.72), (-1.81, -2.26), (-1.5, -2.45), (-1.42, -2.81), (-1.18, -2.08), (-0.87, -1.53), (-0.56, -0.8), (-0.25, -0.44), (0.06, -0.07), (0.22, -0.8), (0.37, -0.99), (0.53, -0.8), (0.92, -0.44), (1.7, -0.26), (2.48, -0.07), (4, 0)]
b3_mnb_up = [(-8, 0), (-5.71, 0), (-5.32, 0.29), (-4.54, 0.47), (-3.76, 0.66), (-3.21, 0.84), (-2.9, 1.2), (-2.74, 0.84), (-2.43, 1.02), (-2.12, 1.39), (-1.85, 2.48), (-1.73, 1.75), (-1.57, 1.93), (-1.34, 1.02), (-0.87, 1.02), (-0.56, 0.66), (-0.25, 0.47), (0.06, 0.66), (0.37, 0.29), (0.53, 0.11), (4, 0.02)]
b3_mnb_dn = [(-8, 0), (0.06, 0), (0.22, -1.35), (0.37, -1.35), (0.49, -0.99), (0.65, -1.9), (0.76, -4.27), (0.92, -2.26), (1.08, -2.08), (1.31, -1.9), (1.47, -2.26), (1.78, -1.72), (1.93, -1.35), (2.4, -0.8), (2.87, -0.44), (3.26, -0.15), (4, 0)]
b3_ga_up = [(-8, 0), (-7.5, 0.1), (-6.9, 0.3), (-6.3, 0.1), (4, 0.02)]
b3_ga_dn = [(-8, 0), (-7.5, -0.1), (-6.64, -0.44), (-6.2, -0.15), (4, -0.02)]
b3_tot_up = [(-8, 0), (-7.73, 0.11), (-7.42, 0.66), (-7.07, 1.57), (-6.87, 0.66), (-6.72, 1.57), (-6.6, 0.66), (-6.48, 1.2), (-6.33, 1.39), (-6.17, 1.2), (-6.02, 1.93), (-5.86, 1.57), (-5.71, 2.66), (-5.55, 2.12), (-5.47, 2.66), (-5.32, 1.93), (-5.16, 2.66), (-5.0, 2.12), (-4.85, 2.3), (-4.61, 1.93), (-4.46, 2.48), (-4.3, 1.93), (-4.15, 2.3), (-3.83, 2.12), (-3.37, 2.66), (-2.9, 3.39), (-2.74, 2.3), (-2.59, 2.12), (-2.28, 2.12), (-2.04, 2.66), (-1.85, 3.58), (-1.73, 2.66), (-1.57, 1.75), (-1.34, 1.39), (-1.03, 2.12), (-0.87, 1.39), (-0.72, 1.75), (-0.56, 1.39), (-0.41, 1.93), (-0.25, 1.39), (-0.09, 2.48), (0.02, 2.66), (0.1, 3.94), (0.22, 2.3), (0.41, 2.66), (0.53, 1.75), (0.69, 0.66), (0.92, 0.47), (1.08, 1.02), (1.23, 0.66), (1.7, 1.02), (2.09, 0.84), (2.48, 0.47), (2.71, 0.66), (3.02, 0.47), (3.41, 0.66), (4, 0.58)]
b3_tot_dn = [(-8, 0), (-7.73, -0.07), (-7.26, -0.62), (-6.87, -1.17), (-6.64, -0.8), (-6.48, -1.72), (-6.33, -1.35), (-6.1, -1.72), (-5.71, -1.9), (-5.47, -2.45), (-5.24, -2.26), (-4.93, -2.81), (-4.77, -2.99), (-4.61, -3.36), (-4.46, -2.81), (-4.3, -2.63), (-4.15, -2.26), (-3.68, -2.45), (-3.37, -2.08), (-3.06, -2.63), (-2.86, -3.18), (-2.74, -2.45), (-2.63, -3.36), (-2.51, -2.45), (-2.2, -2.26), (-1.81, -2.08), (-1.5, -2.45), (-1.42, -2.81), (-1.18, -2.26), (-0.87, -1.72), (-0.56, -1.35), (-0.25, -0.8), (0.06, -0.07), (0.22, -1.9), (0.3, -3.36), (0.41, -3.18), (0.53, -2.08), (0.69, -3.36), (0.76, -5.55), (0.92, -3.72), (1.15, -2.81), (1.47, -2.45), (1.7, -2.63), (2.01, -2.08), (2.48, -1.53), (2.87, -1.17), (3.26, -0.88), (4, -0.62)]

# (b) Pt1.25Mn1.75Ga
b4_pt_up = [(-8, 0), (-7.73, 0.07), (-7.26, 0.36), (-6.87, 0.55), (-6.48, 0.73), (-6.1, 1.09), (-5.71, 1.28), (-5.39, 1.64), (-5.08, 2.01), (-4.93, 1.46), (-4.54, 1.28), (-4.15, 1.09), (-3.68, 0.91), (-3.06, 0.73), (-2.59, 0.55), (-2.12, 0.73), (-1.81, 0.91), (-1.42, 0.73), (-1.03, 0.55), (-0.64, 0.36), (-0.25, 0.18), (0.22, 0.36), (0.53, 0.07), (4, 0.02)]
b4_pt_dn = [(-8, 0), (-7.73, -0.07), (-7.26, -0.29), (-6.87, -0.55), (-6.48, -0.36), (-6.1, -0.73), (-5.71, -0.91), (-5.39, -1.02), (-4.93, -1.28), (-4.61, -1.46), (-4.46, -1.64), (-4.3, -1.28), (-4.15, -1.64), (-3.99, -0.91), (-3.68, -0.73), (-3.37, -0.55), (-2.59, -0.36), (-1.81, -0.29), (-1.03, -0.18), (0.14, -0.11), (0.53, -0.29), (0.92, -0.07), (4, 0)]
b4_mna_up = [(-8, 0), (-3.37, 0), (-2.98, 0.18), (-2.59, 0.36), (-1.81, 0.44), (-1.18, 0.55), (-0.8, 0.91), (-0.56, 1.46), (-0.33, 1.09), (-0.17, 1.28), (0.02, 0.73), (0.26, 1.82), (0.53, 4.56), (0.76, 2.19), (1.0, 0.91), (1.31, 0.55), (1.7, 0.36), (2.09, 0.73), (2.48, 0.36), (3.26, 0.07), (4, 0.02)]
b4_mna_dn = [(-8, 0), (-3.37, 0), (-2.98, -0.18), (-2.59, -0.55), (-2.2, -1.09), (-1.96, -1.82), (-1.75, -3.1), (-1.57, -2.37), (-1.26, -1.46), (-0.87, -0.73), (-0.56, -0.36), (-0.25, -0.18), (0, 0), (0.3, -0.55), (0.53, -0.36), (0.92, -0.29), (1.31, -0.11), (4, 0)]
b4_mnb_up = [(-8, 0), (-6.1, 0), (-5.32, 0.36), (-4.54, 0.55), (-3.76, 0.73), (-2.98, 1.09), (-2.59, 1.28), (-2.12, 1.64), (-1.89, 2.55), (-1.73, 2.19), (-1.57, 2.37), (-1.34, 1.46), (-1.03, 0.91), (-0.72, 0.73), (-0.25, 0.55), (-0.02, 0.36), (0.53, 0.55), (0.92, 0.18), (4, 0.02)]
b4_mnb_dn = [(-8, 0), (0, 0), (0.1, -0.55), (0.26, -1.46), (0.45, -1.46), (0.53, -1.28), (0.61, -2.01), (0.72, -3.83), (0.84, -2.19), (1.08, -1.64), (1.31, -1.46), (1.62, -1.28), (1.86, -0.91), (2.09, -0.73), (2.56, -0.36), (3.02, -0.07), (4, 0)]
b4_ga_up = [(-8, 0), (-7.5, 0.1), (-7.17, 0.55), (-6.8, 0.15), (4, 0.02)]
b4_ga_dn = [(-8, 0), (-7.5, -0.1), (-6.75, -0.44), (-6.3, -0.1), (4, -0.02)]
b4_tot_up = [(-8, 0), (-7.73, 0.07), (-7.26, 0.73), (-6.89, 2.01), (-6.72, 1.09), (-6.52, 1.28), (-6.37, 0.73), (-6.25, 1.28), (-6.06, 2.01), (-5.94, 1.82), (-5.86, 2.37), (-5.71, 1.82), (-5.55, 2.19), (-5.35, 2.74), (-5.08, 3.1), (-4.93, 2.74), (-4.77, 2.37), (-4.46, 2.19), (-4.15, 1.82), (-3.83, 2.01), (-3.37, 1.82), (-3.06, 2.19), (-2.74, 2.01), (-2.43, 2.37), (-2.12, 2.92), (-1.89, 3.83), (-1.77, 3.47), (-1.61, 3.83), (-1.46, 2.92), (-1.26, 1.82), (-1.03, 1.64), (-0.72, 1.82), (-0.41, 1.64), (-0.09, 2.01), (-0.02, 1.28), (0.22, 1.82), (0.37, 3.28), (0.49, 4.09), (0.65, 2.92), (0.84, 1.46), (1.15, 1.09), (1.47, 0.91), (1.78, 1.09), (2.09, 0.91), (2.87, 0.73), (3.02, 0.8), (3.65, 0.55), (4, 0.36)]
b4_tot_dn = [(-8, 0), (-7.73, -0.07), (-7.26, -0.55), (-6.73, -1.82), (-6.56, -1.28), (-6.33, -0.73), (-6.1, -0.55), (-5.94, -1.28), (-5.71, -1.46), (-5.47, -1.82), (-5.24, -2.01), (-5.0, -2.19), (-4.85, -2.74), (-4.61, -2.92), (-4.3, -2.55), (-3.99, -2.37), (-3.68, -2.19), (-3.37, -2.01), (-3.06, -1.82), (-2.74, -2.01), (-2.43, -2.37), (-2.12, -2.92), (-1.77, -3.65), (-1.5, -2.74), (-1.18, -1.64), (-0.87, -1.28), (-0.56, -0.91), (-0.25, -0.55), (0, 0), (0.18, -1.28), (0.3, -2.92), (0.45, -2.55), (0.53, -2.19), (0.61, -2.92), (0.7, -5.11), (0.84, -3.28), (1.08, -2.55), (1.31, -2.01), (1.62, -1.64), (1.93, -1.28), (2.32, -0.91), (2.87, -0.73), (3.49, -0.55), (4, -0.44)]

# (b) Mn2PtGa
b5_pt_up = [(-8, 0), (-7.58, 0.07), (-6.95, 0.36), (-6.48, 0.29), (-6.02, 0.84), (-5.78, 1.39), (-5.55, 1.02), (-5.35, 2.48), (-5.16, 1.39), (-5.04, 1.02), (-4.89, 2.66), (-4.69, 1.39), (-4.38, 0.66), (-4.15, 0.47), (-3.99, 0.73), (-3.68, 0.29), (-3.37, 0.36), (-2.74, 0.29), (-2.43, 0.22), (-1.89, 0.47), (-1.65, 0.66), (-1.34, 0.47), (-1.03, 0.29), (-0.25, 0.18), (0.53, 0.07), (4, 0.02)]
b5_pt_dn = [(-8, 0), (-7.58, -0.07), (-6.87, -0.26), (-6.1, -0.36), (-5.63, -1.35), (-5.47, -0.99), (-5.32, -0.99), (-5.04, -1.72), (-4.93, -1.35), (-4.85, -1.53), (-4.65, -2.63), (-4.46, -1.17), (-4.3, -0.62), (-3.99, -0.44), (-3.37, -0.36), (-2.59, -0.44), (-2.12, -0.62), (-1.42, -0.44), (-0.25, -0.26), (0.37, -0.44), (0.92, -0.15), (4, 0)]
b5_mna_up = [(-8, 0), (-2.98, 0), (-2.59, 0.29), (-2.12, 0.47), (-1.81, 0.73), (-1.5, 0.84), (-1.18, 0.66), (-0.72, 0.84), (-0.48, 1.2), (-0.25, 0.66), (-0.02, 0.29), (0.14, 2.3), (0.26, 2.12), (0.49, 2.66), (0.69, 1.75), (0.92, 0.84), (1.31, 0.66), (2.09, 0.47), (2.87, 0.29), (4, 0.05)]
b5_mna_dn = [(-8, 0), (-3.37, -0.07), (-3.21, -0.62), (-2.9, -0.8), (-2.59, -0.99), (-2.28, -1.17), (-2.12, -1.53), (-1.96, -1.9), (-1.89, -2.26), (-1.77, -2.08), (-1.65, -2.26), (-1.5, -2.08), (-1.26, -1.35), (-0.87, -0.99), (-0.56, -0.62), (-0.25, -0.36), (0, -0.07), (0.14, -0.44), (0.26, -0.62), (0.45, -0.44), (0.53, -0.62), (0.92, -0.62), (1.7, -0.36), (2.48, -0.07), (4, 0)]
b5_mnb_up = [(-8, 0), (-5.71, 0.07), (-5.32, 0.29), (-5.08, 0.11), (-4.89, 0.36), (-4.54, 0.18), (-4.03, 0.47), (-3.68, 0.29), (-3.21, 0.66), (-2.98, 1.75), (-2.74, 1.2), (-2.43, 0.29), (-2.2, 1.57), (-1.96, 1.75), (-1.73, 2.3), (-1.57, 2.3), (-1.34, 1.02), (-1.03, 0.47), (-0.64, 0.29), (-0.25, 0.11), (0.22, 0.29), (0.53, 0.66), (0.76, 0.29), (1.31, 0.07), (4, 0.02)]
b5_mnb_dn = [(-8, 0), (0, 0), (0.14, -1.35), (0.23, -1.9), (0.37, -1.17), (0.45, -1.35), (0.53, -2.99), (0.57, -4.09), (0.69, -1.9), (0.92, -1.35), (1.15, -1.17), (1.39, -0.99), (1.7, -0.8), (2.09, -0.44), (2.48, -0.26), (4, 0)]
b5_ga_up = [(-8, 0), (-7.5, 0.1), (-6.9, 0.47), (-6.4, 0.15), (-5.5, 0.1), (4, 0.02)]
b5_ga_dn = [(-8, 0), (-7.5, -0.1), (-6.9, -0.44), (-6.4, -0.15), (4, -0.02)]
b5_tot_up = [(-8, 0), (-7.58, 0.07), (-7.11, 0.29), (-6.8, 1.68), (-6.56, 1.2), (-6.33, 0.84), (-6.17, 0.66), (-6.02, 1.02), (-5.86, 1.75), (-5.74, 2.48), (-5.55, 1.75), (-5.35, 3.58), (-5.2, 2.48), (-5.08, 2.12), (-4.89, 3.94), (-4.73, 2.48), (-4.46, 1.57), (-4.22, 1.39), (-4.03, 1.93), (-3.91, 1.02), (-3.68, 0.66), (-3.45, 1.02), (-3.25, 2.66), (-2.98, 3.03), (-2.82, 2.3), (-2.59, 1.02), (-2.35, 0.29), (-2.24, 1.39), (-2.12, 3.03), (-2.0, 2.66), (-1.89, 3.21), (-1.73, 3.58), (-1.61, 4.12), (-1.46, 3.03), (-1.34, 1.93), (-1.03, 1.39), (-0.72, 1.57), (-0.48, 2.3), (-0.33, 1.57), (-0.17, 1.02), (-0.09, 0.84), (0.14, 2.66), (0.26, 3.03), (0.49, 3.76), (0.65, 2.85), (0.84, 1.75), (1.15, 1.2), (1.7, 0.84), (2.09, 1.2), (2.48, 1.02), (2.87, 0.66), (4, 0.66)]
b5_tot_dn = [(-8, 0), (-7.58, -0.07), (-7.03, -0.62), (-6.64, -1.72), (-6.41, -1.17), (-6.17, -0.8), (-5.94, -0.99), (-5.63, -2.63), (-5.47, -1.9), (-5.35, -1.72), (-5.16, -2.45), (-5.0, -2.99), (-4.85, -1.72), (-4.73, -2.26), (-4.63, -3.91), (-4.46, -1.9), (-4.22, -1.35), (-4.07, -0.8), (-3.83, -1.17), (-3.52, -0.99), (-3.29, -0.44), (-3.06, -1.17), (-2.9, -1.72), (-2.59, -2.08), (-2.35, -2.26), (-2.2, -2.81), (-2.04, -3.36), (-1.89, -3.54), (-1.81, -3.36), (-1.73, -3.54), (-1.65, -3.36), (-1.54, -3.54), (-1.42, -2.99), (-1.18, -2.26), (-0.87, -1.72), (-0.56, -1.17), (-0.25, -0.62), (0, -0.07), (0.1, -1.53), (0.23, -3.18), (0.37, -2.26), (0.41, -1.9), (0.49, -2.99), (0.57, -5.55), (0.69, -3.36), (0.92, -2.45), (1.15, -2.26), (1.47, -1.72), (1.78, -1.35), (2.09, -1.17), (2.32, -0.99), (2.87, -0.62), (4, -0.44)]

# ---------------- panel description ----------------
phase_titles = ['Cubic Austenitic Phase', 'Stable Tetragonal Martensitic Phase']
panel_tags = ['(a)', '(b)']
compounds = ['Pt$_2$MnGa', 'Pt$_{1.75}$Mn$_{1.25}$Ga', 'Pt$_{1.5}$Mn$_{1.5}$Ga',
             'Pt$_{1.25}$Mn$_{1.75}$Ga', 'Mn$_2$PtGa']
species = ['Pt', 'MnA', 'MnB', 'Ga', 'Total']
colors = {'Pt': '#ff0000', 'MnA': '#00e600', 'MnB': '#0000ff', 'Ga': '#ff00ff', 'Total': '#000000'}
zorders = {'Pt': 2, 'MnA': 3, 'MnB': 4, 'Ga': 5, 'Total': 7}

panel_a = [
    {'Pt': (a1_pt_up, a1_pt_dn), 'MnB': (a1_mnb_up, a1_mnb_dn), 'Ga': (a1_ga_up, a1_ga_dn), 'Total': (a1_tot_up, a1_tot_dn)},
    {'Pt': (a2_pt_up, a2_pt_dn), 'MnA': (a2_mna_up, a2_mna_dn), 'MnB': (a2_mnb_up, a2_mnb_dn), 'Ga': (a2_ga_up, a2_ga_dn), 'Total': (a2_tot_up, a2_tot_dn)},
    {'Pt': (a3_pt_up, a3_pt_dn), 'MnA': (a3_mna_up, a3_mna_dn), 'MnB': (a3_mnb_up, a3_mnb_dn), 'Ga': (a3_ga_up, a3_ga_dn), 'Total': (a3_tot_up, a3_tot_dn)},
    {'Pt': (a4_pt_up, a4_pt_dn), 'MnA': (a4_mna_up, a4_mna_dn), 'MnB': (a4_mnb_up, a4_mnb_dn), 'Ga': (a4_ga_up, a4_ga_dn), 'Total': (a4_tot_up, a4_tot_dn)},
    {'Pt': (a5_pt_up, a5_pt_dn), 'MnA': (a5_mna_up, a5_mna_dn), 'MnB': (a5_mnb_up, a5_mnb_dn), 'Ga': (a5_ga_up, a5_ga_dn), 'Total': (a5_tot_up, a5_tot_dn)},
]
panel_b = [
    {'Pt': (b1_pt_up, b1_pt_dn), 'MnB': (b1_mnb_up, b1_mnb_dn), 'Ga': (b1_ga_up, b1_ga_dn), 'Total': (b1_tot_up, b1_tot_dn)},
    {'Pt': (b2_pt_up, b2_pt_dn), 'MnA': (b2_mna_up, b2_mna_dn), 'MnB': (b2_mnb_up, b2_mnb_dn), 'Ga': (b2_ga_up, b2_ga_dn), 'Total': (b2_tot_up, b2_tot_dn)},
    {'Pt': (b3_pt_up, b3_pt_dn), 'MnA': (b3_mna_up, b3_mna_dn), 'MnB': (b3_mnb_up, b3_mnb_dn), 'Ga': (b3_ga_up, b3_ga_dn), 'Total': (b3_tot_up, b3_tot_dn)},
    {'Pt': (b4_pt_up, b4_pt_dn), 'MnA': (b4_mna_up, b4_mna_dn), 'MnB': (b4_mnb_up, b4_mnb_dn), 'Ga': (b4_ga_up, b4_ga_dn), 'Total': (b4_tot_up, b4_tot_dn)},
    {'Pt': (b5_pt_up, b5_pt_dn), 'MnA': (b5_mna_up, b5_mna_dn), 'MnB': (b5_mnb_up, b5_mnb_dn), 'Ga': (b5_ga_up, b5_ga_dn), 'Total': (b5_tot_up, b5_tot_dn)},
]

# arrows (tail -> head) in data coordinates of each sub-plot
arrows_a = [
    [((-0.76, -4.55), (-0.37, -2.93))],
    [((0.45, 4.88), (0.1, 2.24)), ((-0.6, -4.07), (-0.25, -2.85))],
    [((0.26, 5.69), (0.06, 3.46)), ((-0.48, -4.67), (-0.17, -2.85))],
    [((0.34, 5.98), (0.02, 4.35)), ((-0.52, -4.19), (-0.21, -2.15))],
    [((0.76, 5.39), (0.14, 5.39))],
]
arrows_b = [
    [],
    [((-0.56, 4.67), (-0.21, 2.3))],
    [((-0.6, 4.12), (-0.09, 2.66))],
    [((-0.64, 4.38), (-0.13, 2.74))],
    [],
]

# ---------------- figure ----------------
W, H = 834, 1270
fig = plt.figure(figsize=(W / 100, H / 100), dpi=100)
x0, x1 = 95, 724


def px_axes(top, height):
    return fig.add_axes([x0 / W, 1 - (top + height) / H, (x1 - x0) / W, height / H])


def draw_panel(data, arrows, top, height, ylims, label_x, legend_y):
    for i, sub in enumerate(data):
        ax = px_axes(top + i * height, height)
        # zero line sits over the tiny Ga traces, under the Total curve
        ax.axhline(0, color='k', lw=1.8, zorder=6)
        ax.axvline(0, color='k', ls=(0, (1.5, 2.5)), lw=1.0, zorder=1)
        for sp in species:
            if sp not in sub:
                continue
            for pts in sub[sp]:
                e = [p[0] for p in pts]
                v = [p[1] for p in pts]
                ax.plot(e, v, color=colors[sp], lw=1.3, zorder=zorders[sp])
        for tail, head in arrows[i]:
            ax.annotate('', xy=head, xytext=tail, annotation_clip=False,
                        arrowprops=dict(arrowstyle='-|>', color='k', lw=1.6,
                                        mutation_scale=12, shrinkA=0, shrinkB=0),
                        zorder=10)
        ax.set_xlim(-8, 4)
        ax.set_ylim(*ylims[i])
        ax.xaxis.set_major_locator(MultipleLocator(2))
        ax.xaxis.set_minor_locator(MultipleLocator(1))
        ax.yaxis.set_major_locator(MultipleLocator(2.5))
        ax.yaxis.set_minor_locator(MultipleLocator(0.5))
        ax.yaxis.set_major_formatter(FormatStrFormatter('%.1f'))
        ax.tick_params(axis='x', which='both', direction='out', top=True, bottom=True,
                       length=5, width=1.5, labelsize=13, pad=1)
        ax.tick_params(axis='y', which='major', direction='out', left=True, right=True,
                       length=5, width=1.5, labelsize=13, pad=1)
        ax.tick_params(axis='y', which='minor', direction='out', left=True, right=True,
                       length=2.5, width=1.0)
        if i < len(data) - 1:
            ax.tick_params(axis='x', labelbottom=False)
        ax.text(label_x[i], 0.96, compounds[i], transform=ax.transAxes,
                ha='left', va='top', fontsize=14.5, fontweight='bold', zorder=12)
    # legend beside the axes
    for sp, y in zip(species, legend_y):
        fig.add_artist(Line2D([726 / W, 776 / W], [1 - y / H, 1 - y / H],
                              color=colors[sp], lw=1.4))
        fig.text(782 / W, 1 - y / H, sp, ha='left', va='center',
                 fontsize=15, fontweight='bold')


draw_panel(panel_a, arrows_a, 48, 96.0,
           [(-5.7, 6.0)] * 4 + [(-8.0, 6.1)], [0.027, 0.02, 0.02, 0.02, 0.02],
           [61, 88, 115, 142, 169])
draw_panel(panel_b, arrows_b, 709, 96.6,
           [(-5.15, 5.45)] * 5, [0.013, 0.002, 0.002, 0.002, 0.016],
           [717, 744, 771, 798, 826])

for tag, title, ty, tagy, dosy, exy in zip(panel_tags, phase_titles,
                                           [13, 677], [55, 718], [288, 950], [587, 1250]):
    fig.text(409 / W, 1 - ty / H, title, ha='center', va='center',
             fontsize=13, fontweight='bold')
    fig.text(28 / W, 1 - tagy / H, tag, ha='center', va='center',
             fontsize=19, fontweight='bold')
    fig.text(30 / W, 1 - dosy / H, 'DOS', ha='center', va='center', rotation=90,
             fontsize=14, fontweight='bold')
    fig.text(409 / W, 1 - exy / H, 'Energy(eV)', ha='center', va='center',
             fontsize=14, fontweight='bold')

fig.savefig('out.png', dpi=100)
